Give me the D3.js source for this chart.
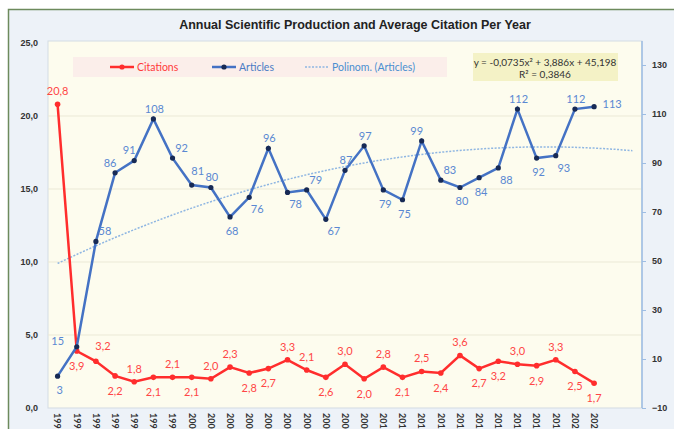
<!DOCTYPE html>
<html>
<head>
<meta charset="utf-8">
<script src="https://cdn.jsdelivr.net/npm/d3@7"></script>
<style>
  body { margin: 0; background: #fff; }
  svg { display: block; font-family: Lato, "Open Sans", sans-serif; }
</style>
</head>
<body>
<div id="chart"></div>
<script>
// years shown on the category axis, plus two forecast slots used by the trend line
const years = [1993, 1994, 1995, 1996, 1997, 1998, 1999, 2000, 2001, 2002, 2003, 2004, 2005, 2006, 2007,
               2008, 2009, 2010, 2011, 2012, 2013, 2014, 2015, 2016, 2017, 2018, 2019, 2020, 2021];
const forecastYears = [2022, 2023];

// average citations per year (left axis)
const citations = [20.8, 3.9, 3.2, 2.2, 1.8, 2.1, 2.1, 2.1, 2.0, 2.8, 2.4, 2.7, 3.3, 2.6, 2.1,
                   3.0, 2.0, 2.8, 2.1, 2.5, 2.4, 3.6, 2.7, 3.2, 3.0, 2.9, 3.3, 2.5, 1.7];
// data labels exactly as printed on the original chart
const citeLabels = ["20,8", "3,9", "3,2", "2,2", "1,8", "2,1", "2,1", "2,1", "2,0", "2,3", "2,8", "2,7", "3,3", "2,1", "2,6",
                    "3,0", "2,0", "2,8", "2,1", "2,5", "2,4", "3,6", "2,7", "3,2", "3,0", "2,9", "3,3", "2,5", "1,7"];

// articles per year (right axis)
const articles = [3, 15, 58, 86, 91, 108, 92, 81, 80, 68, 76, 96, 78, 79, 67,
                  87, 97, 79, 75, 99, 83, 80, 84, 88, 112, 92, 93, 112, 113];

// polynomial trend y = a x^2 + b x + c, as printed on the chart
const trendCoef = [-0.0735, 3.886, 45.198];

const leftTicks = [0, 5, 10, 15, 20, 25];
const rightTicks = [-10, 10, 30, 50, 70, 90, 110, 130];

// label placement codes (Excel data label positions)
const citePos = ["t","b","tr","b","t","b","t","b","t","t","b","b","t","t","b",
                 "t","b","t","b","t","b","t","b","b","t","b","t","b","b"];
const artPos = ["b","l","tr","tl","tl","t","tr","tt","t","b","br","t","br","tr","br",
                "t","t","b","b","tl","tr","b","b","br","t","b","br","t","r"];

const width = 674, height = 429;
const plot = { left: 48, right: 642, top: 41, bottom: 408 };

const svg = d3.select("#chart").append("svg")
    .attr("width", width)
    .attr("height", height);

// chart frame
svg.append("rect")
    .attr("x", 8.5).attr("y", 9.5)
    .attr("width", 700).attr("height", 500)
    .attr("fill", "#edf2f8")
    .attr("stroke", "#6d8a5c")
    .attr("stroke-width", 1.5);

// scales
const slots = years.concat(forecastYears);
const x = d3.scaleBand().domain(slots).range([plot.left, plot.right]);
const cx = d => x(d) + x.bandwidth() / 2;

const yL = d3.scaleLinear().domain([0, 25]).range([plot.bottom, plot.top + 2]);
const yR = d3.scaleLinear().domain([-10, 130]).range([plot.bottom, 65]);

// plot area
svg.append("rect")
    .attr("x", plot.left).attr("y", plot.top)
    .attr("width", plot.right - plot.left).attr("height", plot.bottom - plot.top)
    .attr("fill", "#fdfcee")
    .attr("stroke", "#d3dbe3");

// gridlines
svg.append("g")
    .selectAll("line")
    .data(leftTicks.slice(1, -1))
    .enter().append("line")
    .attr("x1", plot.left).attr("x2", plot.right)
    .attr("y1", d => yL(d)).attr("y2", d => yL(d))
    .attr("stroke", "#ebe9d6");

// left axis
const fmt = d => d3.format(".1f")(d).replace(".", ",");
svg.append("g")
    .attr("transform", "translate(" + plot.left + ",0)")
    .call(d3.axisLeft(yL).tickValues(leftTicks).tickFormat(fmt).tickSize(0).tickPadding(10))
    .call(g => g.select(".domain").remove())
    .selectAll("text")
    .style("font-size", "9px")
    .style("font-weight", "bold")
    .style("fill", "#333");

// right axis
const rAxis = svg.append("g")
    .attr("transform", "translate(" + plot.right + ",0)")
    .call(d3.axisRight(yR).tickValues(rightTicks).tickSize(4).tickPadding(6));
rAxis.select(".domain")
    .attr("d", "M0," + plot.top + "V" + plot.bottom)
    .attr("stroke", "#9dbde3")
    .attr("stroke-width", 1.5);
rAxis.selectAll(".tick line").attr("stroke", "#9dbde3");
rAxis.selectAll("text")
    .style("font-size", "9px")
    .style("font-weight", "bold")
    .style("fill", "#333");

// x axis labels, rotated (cut off by the bottom edge, as in the original)
svg.append("g")
    .selectAll("text")
    .data(years)
    .enter().append("text")
    .attr("transform", d => "translate(" + cx(d) + "," + (plot.bottom + 5) + ") rotate(90)")
    .attr("dy", "0.35em")
    .style("font-size", "9px")
    .style("font-weight", "bold")
    .style("fill", "#333")
    .text(d => d);

// trend line
const trend = slots.map((d, i) => {
    const t = i + 1;
    return { year: d, v: trendCoef[0] * t * t + trendCoef[1] * t + trendCoef[2] };
});
svg.append("path")
    .datum(trend)
    .attr("fill", "none")
    .attr("stroke", "#8fb6e2")
    .attr("stroke-width", 1.5)
    .attr("stroke-dasharray", "2,1.5")
    .attr("d", d3.line().x(d => cx(d.year)).y(d => yR(d.v)).curve(d3.curveMonotoneX));

// citations
const citeData = years.map((d, i) => ({ year: d, v: citations[i], label: citeLabels[i], pos: citePos[i] }));
svg.append("path")
    .datum(citeData)
    .attr("fill", "none")
    .attr("stroke", "#ff2d2d")
    .attr("stroke-width", 2.5)
    .attr("d", d3.line().x(d => cx(d.year)).y(d => yL(d.v)));
svg.append("g")
    .selectAll("circle")
    .data(citeData)
    .enter().append("circle")
    .attr("cx", d => cx(d.year))
    .attr("cy", d => yL(d.v))
    .attr("r", 2.8)
    .attr("fill", "#ff2d2d");

// articles
const artData = years.map((d, i) => ({ year: d, v: articles[i], pos: artPos[i] }));
svg.append("path")
    .datum(artData)
    .attr("fill", "none")
    .attr("stroke", "#4472c4")
    .attr("stroke-width", 2.5)
    .attr("d", d3.line().x(d => cx(d.year)).y(d => yR(d.v)));
svg.append("g")
    .selectAll("circle")
    .data(artData)
    .enter().append("circle")
    .attr("cx", d => cx(d.year))
    .attr("cy", d => yR(d.v))
    .attr("r", 2.6)
    .attr("fill", "#172a55");

// data labels
const citeOff = { t: [0, -13], b: [0, 15], tr: [7, -15] };
svg.append("g")
    .selectAll("text")
    .data(citeData)
    .enter().append("text")
    .attr("x", d => cx(d.year) + citeOff[d.pos][0])
    .attr("y", d => yL(d.v) + citeOff[d.pos][1])
    .attr("dy", "0.35em")
    .attr("text-anchor", "middle")
    .style("font-size", "11px")
    .style("fill", "#ff4646")
    .text(d => d.label);

const artOff = { t: [1, -10], b: [2, 14], tl: [-5, -10], tr: [9, -10], tt: [6, -14],
                 br: [8, 12], r: [18, -3], l: [-19, -6] };
svg.append("g")
    .selectAll("text")
    .data(artData)
    .enter().append("text")
    .attr("x", d => cx(d.year) + artOff[d.pos][0])
    .attr("y", d => yR(d.v) + artOff[d.pos][1])
    .attr("dy", "0.35em")
    .attr("text-anchor", "middle")
    .style("font-size", "11px")
    .style("fill", "#5a88d2")
    .text(d => d.v);

// title
svg.append("text")
    .attr("x", 355).attr("y", 29)
    .attr("text-anchor", "middle")
    .style("font-family", "'Liberation Sans', Arial, sans-serif")
    .style("font-size", "12.5px")
    .style("font-weight", "bold")
    .style("fill", "#222")
    .text("Annual Scientific Production and Average Citation Per Year");

// legend
const legend = svg.append("g");
legend.append("rect")
    .attr("x", 73).attr("y", 57)
    .attr("width", 374).attr("height", 20)
    .attr("fill", "#fbeeea");
const items = [
    { name: "Citations", color: "#ff2d2d", text: "#ff3b3b", x: 110, marker: "#ff2d2d", dash: null },
    { name: "Articles", color: "#4472c4", text: "#4a7cc5", x: 212, marker: "#172a55", dash: null },
    { name: "Polinom. (Articles)", color: "#8fb6e2", text: "#4a8fd0", x: 305, marker: null, dash: "2,1.5" }
];
items.forEach(it => {
    legend.append("line")
        .attr("x1", it.x).attr("x2", it.x + 24)
        .attr("y1", 67).attr("y2", 67)
        .attr("stroke", it.color)
        .attr("stroke-width", it.dash ? 1.5 : 2.5)
        .attr("stroke-dasharray", it.dash);
    if (it.marker) {
        legend.append("circle")
            .attr("cx", it.x + 12).attr("cy", 67).attr("r", 2.6)
            .attr("fill", it.marker);
    }
    legend.append("text")
        .attr("x", it.x + 27).attr("y", 67)
        .attr("dy", "0.35em")
        .style("font-size", "10.5px")
        .style("fill", it.text)
        .text(it.name);
});

// equation box
svg.append("rect")
    .attr("x", 473).attr("y", 53)
    .attr("width", 145).attr("height", 28)
    .attr("fill", "#f4f2c6");
svg.append("text")
    .attr("x", 545).attr("y", 62)
    .attr("dy", "0.35em")
    .attr("text-anchor", "middle")
    .style("font-size", "10px")
    .style("fill", "#333")
    .text("y = -0,0735x² + 3,886x + 45,198");
svg.append("text")
    .attr("x", 545).attr("y", 74)
    .attr("dy", "0.35em")
    .attr("text-anchor", "middle")
    .style("font-size", "10px")
    .style("fill", "#333")
    .text("R² = 0,3846");
</script>
</body>
</html>
